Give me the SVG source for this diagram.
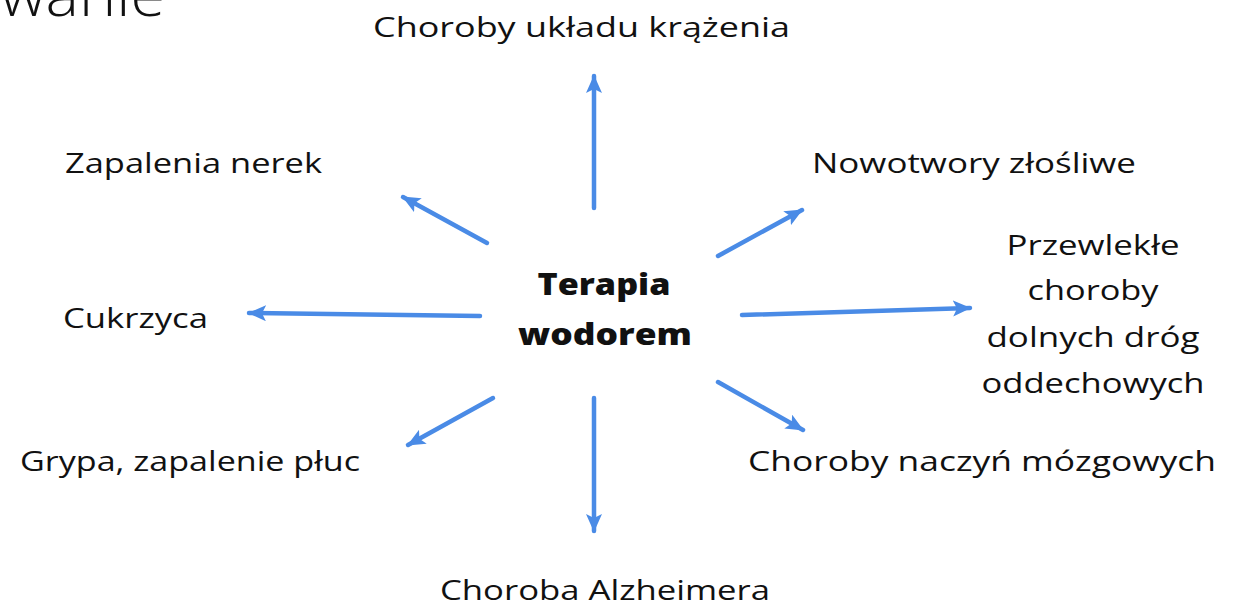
<svg xmlns="http://www.w3.org/2000/svg" width="1234" height="615" viewBox="0 0 1234 615">
<style>
.lbl{font-family:"Open Sans","Liberation Sans",sans-serif;font-size:27px;font-weight:500;fill:#111;}
.ctr{font-family:"Open Sans","Liberation Sans",sans-serif;font-size:30px;font-weight:800;fill:#111;}
.arr{stroke:#4a8be6;stroke-width:4.5;fill:none;stroke-linecap:round;marker-end:url(#ah);}
</style>
<defs>
<marker id="ah" markerUnits="userSpaceOnUse" viewBox="0 0 18 16" refX="17" refY="8" markerWidth="18" markerHeight="16" orient="auto">
<path d="M0,0 L18,8 L0,16 L4,8 Z" fill="#4a8be6"/>
</marker>
</defs>
<rect width="1234" height="615" fill="#ffffff"/>
<text x="0" y="16" font-family="Open Sans,DejaVu Sans,sans-serif" font-size="58" font-weight="300" fill="#111" textLength="165" lengthAdjust="spacingAndGlyphs">wanie</text>
<g id="connectors">
<line class="arr" x1="594" y1="208" x2="594" y2="76"/>
<line class="arr" x1="487" y1="243" x2="403" y2="197"/>
<line class="arr" x1="718" y1="256" x2="802" y2="210"/>
<line class="arr" x1="480" y1="316" x2="249" y2="313"/>
<line class="arr" x1="742" y1="315" x2="970" y2="308"/>
<line class="arr" x1="493" y1="398" x2="408" y2="445"/>
<line class="arr" x1="594" y1="398" x2="594" y2="531"/>
<line class="arr" x1="718" y1="382" x2="803" y2="430"/>
</g>
<g id="center">
<text class="ctr" x="604" y="295" text-anchor="middle" textLength="133" lengthAdjust="spacingAndGlyphs">Terapia</text>
<text class="ctr" x="605" y="345" text-anchor="middle" textLength="174" lengthAdjust="spacingAndGlyphs">wodorem</text>
</g>
<g id="n-krazenie"><text class="lbl" x="373" y="37" textLength="417" lengthAdjust="spacingAndGlyphs">Choroby układu krążenia</text></g>
<g id="n-nerki"><text class="lbl" x="65" y="173" textLength="257" lengthAdjust="spacingAndGlyphs">Zapalenia nerek</text></g>
<g id="n-nowotwory"><text class="lbl" x="812" y="173" textLength="324" lengthAdjust="spacingAndGlyphs">Nowotwory złośliwe</text></g>
<g id="n-pochp">
<text class="lbl" x="1093" y="255" text-anchor="middle" textLength="173" lengthAdjust="spacingAndGlyphs">Przewlekłe</text>
<text class="lbl" x="1093" y="300" text-anchor="middle" textLength="131" lengthAdjust="spacingAndGlyphs">choroby</text>
<text class="lbl" x="1093" y="347" text-anchor="middle" textLength="213" lengthAdjust="spacingAndGlyphs">dolnych dróg</text>
<text class="lbl" x="1093" y="393" text-anchor="middle" textLength="223" lengthAdjust="spacingAndGlyphs">oddechowych</text>
</g>
<g id="n-cukrzyca"><text class="lbl" x="63" y="328" textLength="145" lengthAdjust="spacingAndGlyphs">Cukrzyca</text></g>
<g id="n-grypa"><text class="lbl" x="20" y="471" textLength="340" lengthAdjust="spacingAndGlyphs">Grypa, zapalenie płuc</text></g>
<g id="n-mozg"><text class="lbl" x="748" y="471" textLength="468" lengthAdjust="spacingAndGlyphs">Choroby naczyń mózgowych</text></g>
<g id="n-alzheimer"><text class="lbl" x="440" y="600" textLength="330" lengthAdjust="spacingAndGlyphs">Choroba Alzheimera</text></g>
</svg>
